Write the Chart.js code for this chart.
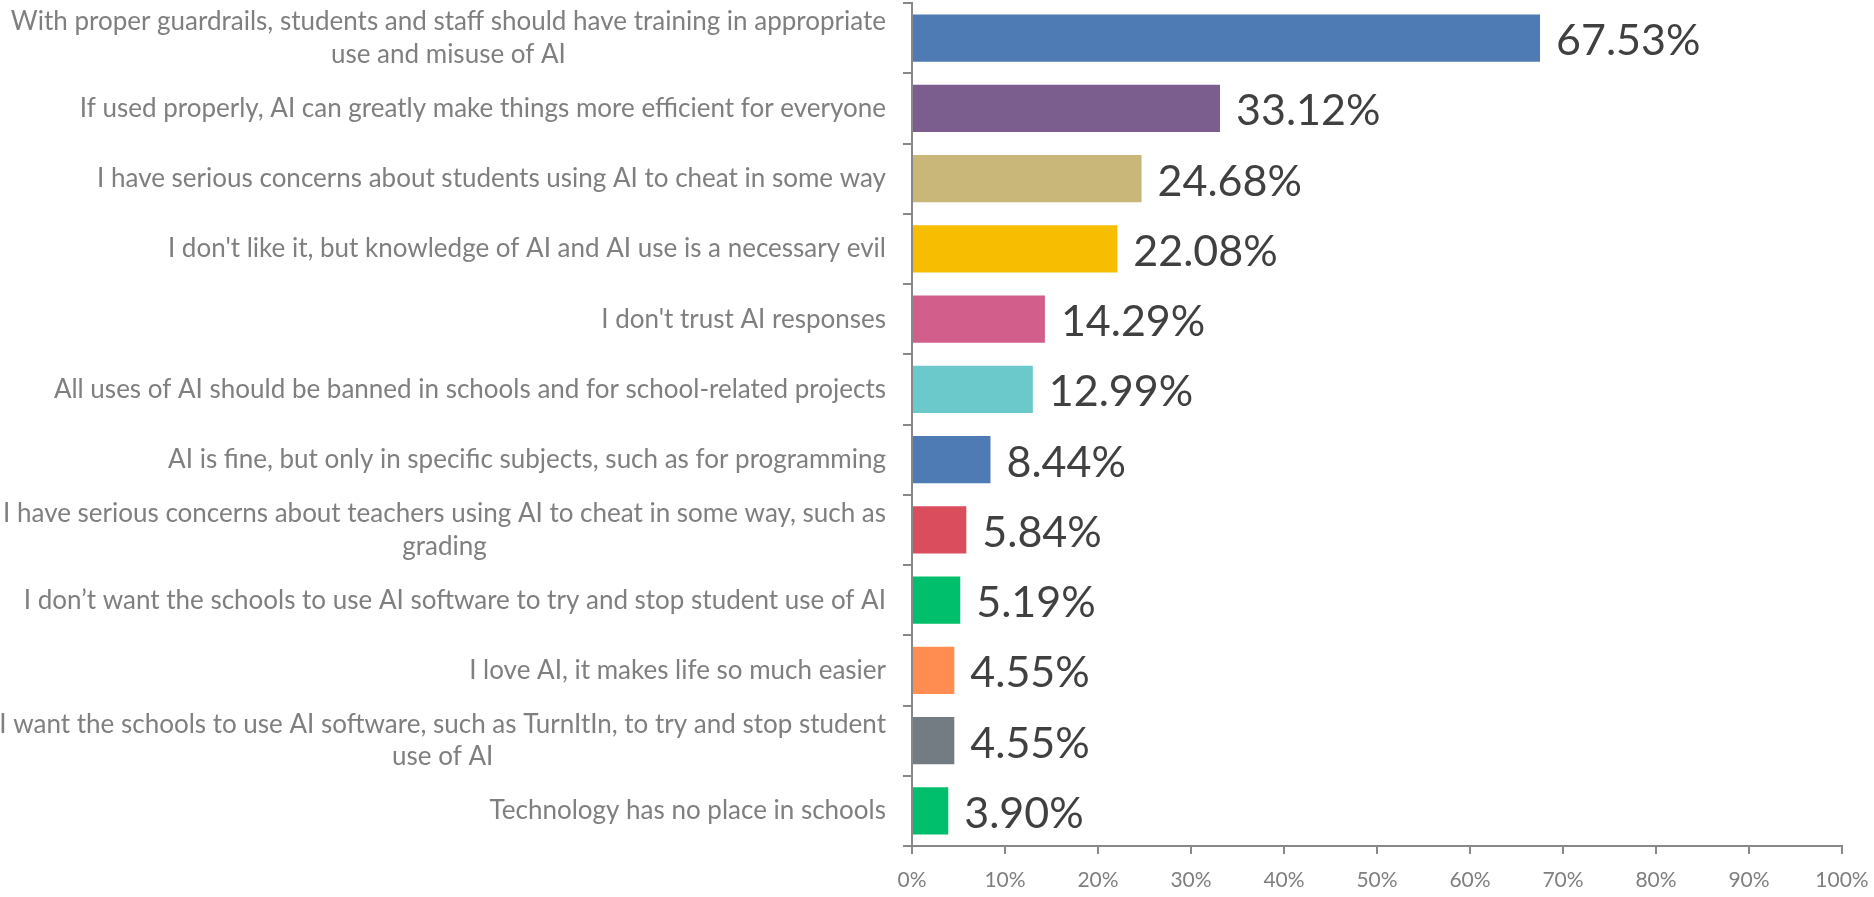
<!DOCTYPE html>
<html>
<head>
<meta charset="utf-8">
<script src="https://cdn.jsdelivr.net/npm/chart.js@4.4.1/dist/chart.umd.min.js"></script>
<style>
html,body{margin:0;padding:0;background:#fff;overflow:hidden}
#wrap{width:1874px;height:897px;position:relative}
</style>
</head>
<body>
<div id="wrap"><canvas id="c" width="1874" height="897"></canvas></div>
<script>
const categories = [
  ["With proper guardrails, students and staff should have training in appropriate", "use and misuse of AI"],
  "If used properly, AI can greatly make things more efficient for everyone",
  "I have serious concerns about students using AI to cheat in some way",
  "I don't like it, but knowledge of AI and AI use is a necessary evil",
  "I don't trust AI responses",
  "All uses of AI should be banned in schools and for school-related projects",
  "AI is fine, but only in specific subjects, such as for programming",
  ["I have serious concerns about teachers using AI to cheat in some way, such as", "grading"],
  "I don\u2019t want the schools to use AI software to try and stop student use of AI",
  "I love AI, it makes life so much easier",
  ["I want the schools to use AI software, such as TurnItIn, to try and stop student", "use of AI"],
  "Technology has no place in schools"
];
const percentages = [67.53, 33.12, 24.68, 22.08, 14.29, 12.99, 8.44, 5.84, 5.19, 4.55, 4.55, 3.90];
const barColors = ["#4F7BB4", "#7C5E8E", "#C8B778", "#F7BD00", "#D25E8C", "#6BC8CB",
                   "#4F7BB4", "#DA4D5D", "#00BF6C", "#FF8C50", "#737C83", "#00BF6C"];
const xTickMin = 0;
const xTickMax = 100;
const xTickStep = 10;

// Category scale that centres the second line of a wrapped label under the first line
class WrapCategoryScale extends Chart.CategoryScale {
  _computeLabelItems(chartArea) {
    const items = super._computeLabelItems(chartArea);
    const out = [];
    const ctx = this.ctx;
    for (const it of items) {
      if (Array.isArray(it.label) && it.label.length > 1) {
        ctx.save();
        ctx.font = it.font.string;
        const w = ctx.measureText(it.label[0]).width;
        ctx.restore();
        const lh = it.font.lineHeight;
        const tr = it.options.translation;
        out.push(Object.assign({}, it, {label: it.label[0]}));
        for (let k = 1; k < it.label.length; k++) {
          out.push(Object.assign({}, it, {
            label: it.label[k],
            textOffset: it.textOffset + lh * k,
            options: Object.assign({}, it.options, {textAlign: 'center', translation: [tr[0] - w / 2, tr[1]]})
          }));
        }
      } else {
        out.push(it);
      }
    }
    return out;
  }
}
WrapCategoryScale.id = 'wrapcategory';
WrapCategoryScale.defaults = Chart.CategoryScale.defaults;
Chart.register(WrapCategoryScale);

const valueLabels = {
  id: 'valueLabels',
  afterDatasetsDraw(chart) {
    const ctx = chart.ctx;
    const meta = chart.getDatasetMeta(0);
    ctx.save();
    ctx.font = '43px Lato';
    ctx.fillStyle = '#404040';
    ctx.textAlign = 'left';
    ctx.textBaseline = 'middle';
    meta.data.forEach((bar, i) => {
      ctx.fillText(percentages[i].toFixed(2) + '%', bar.x + 16, bar.y + 3);
    });
    ctx.restore();
  }
};

new Chart(document.getElementById('c'), {
  type: 'bar',
  data: {
    labels: categories,
    datasets: [{
      data: percentages,
      backgroundColor: barColors,
      borderWidth: 0,
      barPercentage: 0.67,
      categoryPercentage: 1.0
    }]
  },
  options: {
    indexAxis: 'y',
    responsive: false,
    animation: false,
    devicePixelRatio: 1,
    layout: {padding: {left: 0, right: 32, top: 3, bottom: 0}},
    plugins: {legend: {display: false}, tooltip: {enabled: false}},
    scales: {
      y: {
        type: 'wrapcategory',
        offset: true,
        grid: {offset: true, drawOnChartArea: false, drawTicks: true, tickLength: 9, color: '#888888', lineWidth: 2},
        border: {display: true, color: '#888888', width: 2},
        ticks: {
          padding: 17,
          autoSkip: false,
          color: '#7F7F7F',
          font: {family: 'Lato', size: 26, lineHeight: 1.25}
        },
        afterFit(s) { s.width = 912; s.paddingTop = 0; s.paddingBottom = 0; }
      },
      x: {
        type: 'linear',
        min: xTickMin,
        max: xTickMax,
        grid: {drawOnChartArea: false, drawTicks: true, tickLength: 8, color: '#888888', lineWidth: 2},
        border: {display: true, color: '#888888', width: 2},
        ticks: {
          stepSize: xTickStep,
          padding: 14,
          color: '#7F7F7F',
          font: {family: 'Lato', size: 21},
          callback: v => v + '%'
        },
        afterFit(s) { s.height = 51; s.paddingLeft = 0; s.paddingRight = 0; }
      }
    }
  },
  plugins: [valueLabels]
});
</script>
</body>
</html>
